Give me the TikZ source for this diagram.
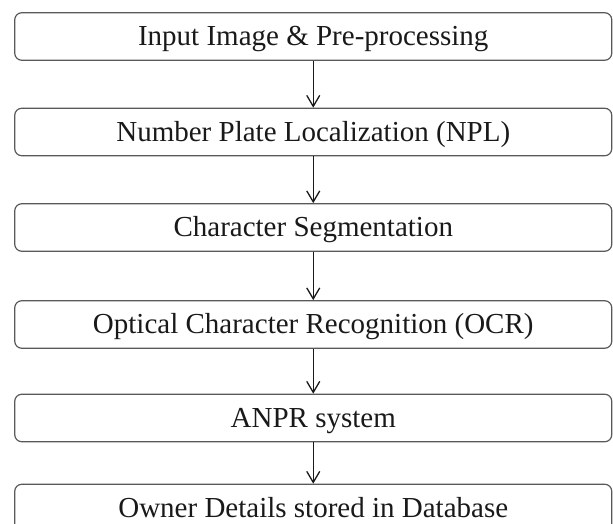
\documentclass[tikz,border=0pt]{standalone}
\usepackage{fontspec}
\setmainfont{Liberation Serif}
\usetikzlibrary{arrows.meta}

\begin{document}
\begin{tikzpicture}[
    x=1pt, y=1pt,
    stage/.style={draw=black!65, line width=1.2pt, rounded corners=7pt,
        minimum width=597pt, minimum height=47.5pt, inner sep=0pt,
        text height=21pt, text depth=2.5pt, text=black!90,
        font=\fontsize{29}{34}\selectfont},
    flow/.style={-{Straight Barb[length=11pt,width=13pt]}, line width=1.3pt, black!90}
]
\clip (0,0) rectangle (613,524);

% Stages (top to bottom)
\node[stage] (input) at (313.25, 487.5) {Input Image \& Pre-processing};
\node[stage] (npl) at (313.25, 392) {Number Plate Localization (NPL)};
\node[stage] (seg) at (313.25, 296.5) {Character Segmentation};
\node[stage] (ocr) at (313.25, 199.5) {Optical Character Recognition (OCR)};
\node[stage] (anpr) at (313.25, 106) {ANPR system};
\node[stage] (owner) at (313.25, 16) {Owner Details stored in Database};

% Flow
\draw[flow] (input) -- (npl);
\draw[flow] (npl) -- (seg);
\draw[flow] (seg) -- (ocr);
\draw[flow] (ocr) -- (anpr);
\draw[flow] (anpr) -- (owner);

\end{tikzpicture}
\end{document}
